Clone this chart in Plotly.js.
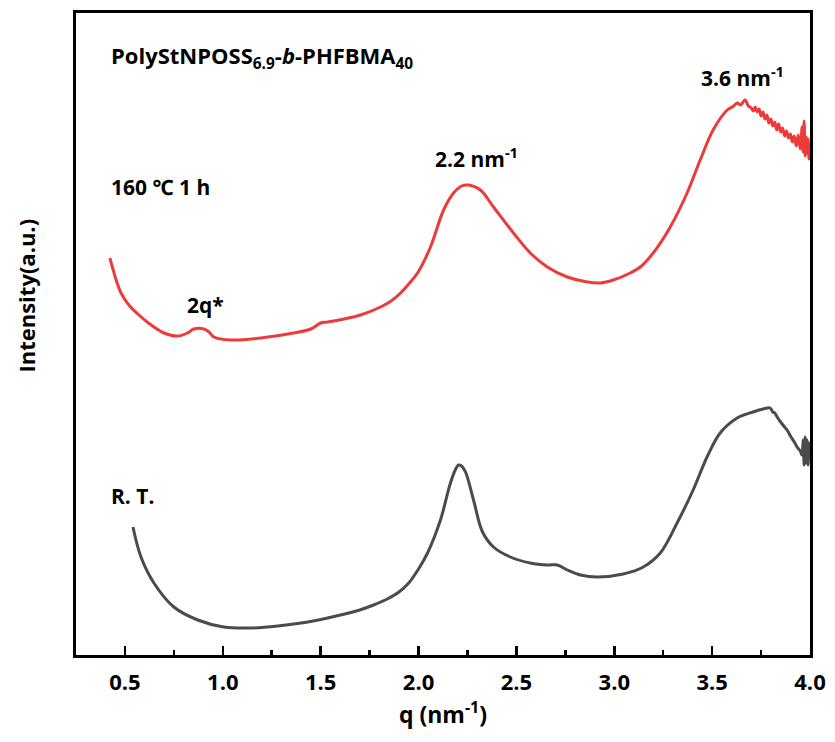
<!DOCTYPE html>
<html>
<head>
<meta charset="utf-8">
<script src="https://cdn.plot.ly/plotly-3.0.1.min.js"></script>
<style>html,body{margin:0;padding:0;background:#fff;}#chart{width:835px;height:742px;}</style>
</head>
<body>
<div id="chart"></div>
<script>
// 160 °C 1 h (red)
const qHeated = [0.423,0.44,0.46,0.48,0.52,0.566,0.62,0.699,0.77,0.82,0.852,0.903,0.93,0.954,1.041,1.194,1.362,1.45,1.50,1.536,1.62,1.704,1.806,1.86,1.908,1.95,1.995,2.061,2.128,2.179,2.22,2.255,2.316,2.383,2.485,2.571,2.658,2.760,2.862,2.929,2.995,3.082,3.133,3.199,3.286,3.372,3.439,3.505,3.577,3.61,3.628,3.645,3.668,3.685,3.70,3.71,3.72,3.73,3.74,3.75,3.76,3.77,3.78,3.79,3.80,3.81,3.82,3.83,3.84,3.85,3.86,3.87,3.88,3.89,3.90,3.91,3.92,3.93,3.94,3.95,3.96,3.965,3.97,3.975,3.98,3.985,3.99,3.995,4.0];
const iHeated = [397,385,372,362,350,341,332,322,319,322,326,326,323,318,315,317,322,326,332,333,336,340,348,354,362,371,382,408,445,462,469,470,465,448,422,402,388,378,373,372,375,382,388,402,428,462,495,525,545,549,552,550,555,549,547,544,548,543,546,539,543,536,540,532,536,529,533,525,531,523,527,519,524,517,521,513,519,509,520,506,528,503,534,499,518,502,516,496,511];
// R. T. (gray)
const qRT = [0.541,0.582,0.648,0.75,0.872,1.005,1.143,1.28,1.434,1.602,1.70,1.77,1.84,1.90,1.95,2.0,2.046,2.112,2.163,2.19,2.204,2.22,2.24,2.281,2.327,2.383,2.469,2.571,2.66,2.709,2.76,2.827,2.913,3.046,3.148,3.235,3.321,3.403,3.474,3.541,3.628,3.709,3.76,3.796,3.81,3.82,3.832,3.85,3.87,3.883,3.90,3.92,3.934,3.95,3.959,3.965,3.97,3.975,3.98,3.985,3.99,3.995,4.0];
const iRT = [128,98,72,48,35,28,27,29,33,40,45,50,56,63,72,86,102,135,172,186,190,189,183,155,123,108,98,92,90,90,85,80,78,81,88,102,132,165,198,222,237,243,246,247,243,242,238,233,228,225,219,213,208,204,200,215,190,218,192,215,190,212,195];

const xTicks = [0.5,1.0,1.5,2.0,2.5,3.0,3.5,4.0];
const xTickText = ['0.5','1.0','1.5','2.0','2.5','3.0','3.5','4.0'];

const traces = [
  {x:qHeated, y:iHeated, mode:'lines', line:{color:'#ec3b3b', width:3, shape:'spline', smoothing:1}, hoverinfo:'skip'},
  {x:qRT, y:iRT, mode:'lines', line:{color:'#4b4b4b', width:3, shape:'spline', smoothing:1}, hoverinfo:'skip'}
];

const fam = '"Open Sans", "Noto Sans", sans-serif';
const bold = {family:fam, size:21, color:'#000'};
const annots = [
  {text:'<b>PolyStNPOSS<sub>6.9</sub>-<i>b</i>-PHFBMA<sub>40</sub></b>', x:0.418, y:598, xanchor:'left', yanchor:'middle', font:{family:fam, size:22, color:'#000'}},
  {text:'<b>160 ℃ 1 h</b>', x:0.418, y:468, xanchor:'left', yanchor:'middle'},
  {text:'<b>2q*</b>', x:0.913, y:350, xanchor:'center', yanchor:'middle'},
  {text:'<b>2.2 nm<sup>-1</sup></b>', x:2.296, y:498, xanchor:'center', yanchor:'middle'},
  {text:'<b>3.6 nm<sup>-1</sup></b>', x:3.653, y:579, xanchor:'center', yanchor:'middle'},
  {text:'<b>R. T.</b>', x:0.418, y:159, xanchor:'left', yanchor:'middle'}
].map(a => Object.assign({xref:'x', yref:'y', showarrow:false, font:bold}, a));
annots.push({text:'<b>Intensity(a.u.)</b>', xref:'paper', yref:'paper', x:-0.068, y:0.56, textangle:-90, showarrow:false, xanchor:'center', yanchor:'middle', font:{family:fam, size:22, color:'#000'}});

const layout = {
  width:835, height:742,
  margin:{l:76, r:25, t:13, b:87},
  paper_bgcolor:'#fff', plot_bgcolor:'#fff',
  showlegend:false,
  xaxis:{
    range:[0.25,4.0], showgrid:false, zeroline:false,
    showline:true, mirror:true, linecolor:'#000', linewidth:3,
    ticks:'inside', ticklen:9, tickwidth:2.5, tickcolor:'#000',
    tickvals:xTicks, ticktext:xTickText.map(t => '<b>' + t + '</b>'), ticklabelstandoff:6,
    minor:{dtick:0.25, tick0:0.25, ticks:'inside', ticklen:5, tickwidth:2.5, tickcolor:'#000', showgrid:false},
    tickfont:{family:fam, size:22, color:'#000'},
    title:{text:'<b>q (nm<sup>-1</sup>)</b>', font:{family:fam, size:23, color:'#000'}, standoff:12}
  },
  yaxis:{
    range:[0,642], showgrid:false, zeroline:false,
    showline:true, mirror:true, linecolor:'#000', linewidth:3,
    ticks:'', showticklabels:false
  },
  annotations:annots
};

Plotly.newPlot('chart', traces, layout, {staticPlot:true, displayModeBar:false});
</script>
</body>
</html>
